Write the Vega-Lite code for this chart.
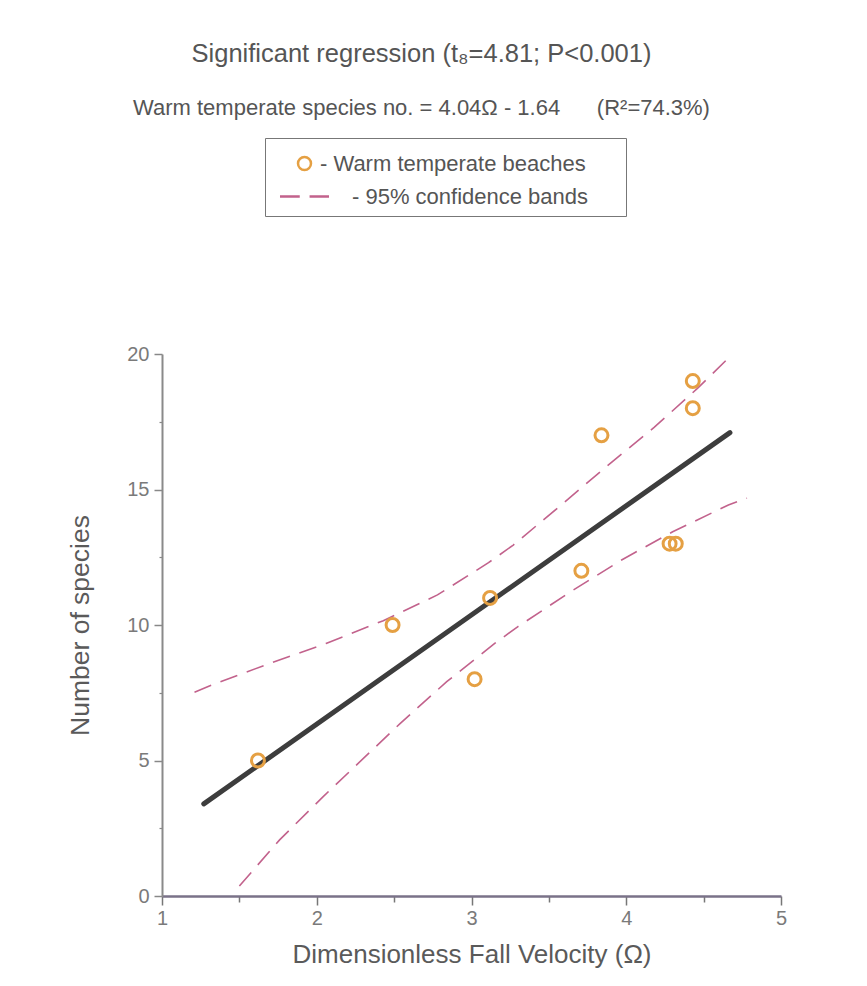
{
  "$schema": "https://vega.github.io/schema/vega-lite/v6.json",
  "width": 619,
  "height": 542,
  "autosize": {"type": "none"},
  "padding": {"left": 162, "top": 354, "right": 86, "bottom": 90},
  "background": "white",
  "config": {"font": "Liberation Sans", "view": {"stroke": null}},
  "title": {
    "text": "Significant regression (t₈=4.81; P<0.001)",
    "subtitle": "Warm temperate species no. = 4.04Ω - 1.64\u00a0\u00a0\u00a0\u00a0\u00a0\u00a0(R²=74.3%)",
    "fontSize": 25.5,
    "fontWeight": "normal",
    "color": "#555555",
    "subtitleFontSize": 22,
    "subtitleColor": "#555555",
    "subtitlePadding": 30,
    "anchor": "middle",
    "offset": 19,
    "dx": -50
  },
  "datasets": {
    "bands": [
      {"band": "upper", "x": 1.21, "y": 7.52},
      {"band": "upper", "x": 1.35, "y": 7.85},
      {"band": "upper", "x": 1.70, "y": 8.59},
      {"band": "upper", "x": 2.06, "y": 9.32},
      {"band": "upper", "x": 2.43, "y": 10.16},
      {"band": "upper", "x": 2.78, "y": 11.11},
      {"band": "upper", "x": 3.11, "y": 12.3},
      {"band": "upper", "x": 3.27, "y": 12.95},
      {"band": "upper", "x": 3.58, "y": 14.43},
      {"band": "upper", "x": 3.87, "y": 15.84},
      {"band": "upper", "x": 4.18, "y": 17.29},
      {"band": "upper", "x": 4.46, "y": 18.73},
      {"band": "upper", "x": 4.68, "y": 19.96},
      {"band": "lower", "x": 1.50, "y": 0.37},
      {"band": "lower", "x": 1.76, "y": 2.07},
      {"band": "lower", "x": 2.04, "y": 3.66},
      {"band": "lower", "x": 2.54, "y": 6.37},
      {"band": "lower", "x": 2.84, "y": 7.91},
      {"band": "lower", "x": 3.15, "y": 9.32},
      {"band": "lower", "x": 3.30, "y": 9.94},
      {"band": "lower", "x": 3.63, "y": 11.19},
      {"band": "lower", "x": 3.97, "y": 12.40},
      {"band": "lower", "x": 4.30, "y": 13.44},
      {"band": "lower", "x": 4.66, "y": 14.43},
      {"band": "lower", "x": 4.78, "y": 14.68}
    ],
    "fit": [
      {"x": 1.27, "y": 3.4},
      {"x": 4.67, "y": 17.1}
    ],
    "beaches": [
      {"series": "- Warm temperate beaches\u2800\u2800", "x": 1.62, "y": 5},
      {"series": "- Warm temperate beaches\u2800\u2800", "x": 2.49, "y": 10},
      {"series": "- Warm temperate beaches\u2800\u2800", "x": 3.02, "y": 8},
      {"series": "- Warm temperate beaches\u2800\u2800", "x": 3.12, "y": 11},
      {"series": "- Warm temperate beaches\u2800\u2800", "x": 3.71, "y": 12},
      {"series": "- Warm temperate beaches\u2800\u2800", "x": 3.84, "y": 17},
      {"series": "- Warm temperate beaches\u2800\u2800", "x": 4.28, "y": 13},
      {"series": "- Warm temperate beaches\u2800\u2800", "x": 4.32, "y": 13},
      {"series": "- Warm temperate beaches\u2800\u2800", "x": 4.43, "y": 19},
      {"series": "- Warm temperate beaches\u2800\u2800", "x": 4.43, "y": 18}
    ]
  },
  "layer": [
    {
      "data": {"name": "bands"},
      "mark": {"type": "line", "stroke": "#c2628c", "strokeWidth": 1.6, "strokeDash": [18, 10]},
      "encoding": {
        "x": {"field": "x", "type": "quantitative", "scale": {"domain": [1, 5], "nice": false, "zero": false}, "axis": null},
        "y": {"field": "y", "type": "quantitative", "scale": {"domain": [0, 20], "nice": false}, "axis": null},
        "detail": {"field": "band"}
      }
    },
    {
      "data": {"name": "fit"},
      "mark": {"type": "line", "stroke": "#3d3d3d", "strokeWidth": 5, "strokeCap": "round"},
      "encoding": {
        "x": {"field": "x", "type": "quantitative", "scale": {"domain": [1, 5], "nice": false, "zero": false},
              "axis": {"orient": "bottom", "values": [1.5, 2.5, 3.5, 4.5], "labels": false, "domain": false, "grid": false, "tickSize": 6, "tickWidth": 1.5, "tickColor": "#777777", "title": null}},
        "y": {"field": "y", "type": "quantitative", "scale": {"domain": [0, 20], "nice": false},
              "axis": {"orient": "left", "values": [2.5, 7.5, 12.5, 17.5], "labels": false, "domain": false, "grid": false, "tickSize": 3, "tickWidth": 1.2, "tickColor": "#888888", "title": null}}
      }
    },
    {
      "data": {"name": "beaches"},
      "mark": {"type": "point", "filled": false, "size": 1000, "strokeWidth": 3, "opacity": 1},
      "encoding": {
        "x": {"field": "x", "type": "quantitative", "scale": {"domain": [1, 5], "nice": false, "zero": false},
              "axis": {"orient": "bottom", "values": [1, 2, 3, 4, 5], "grid": false, "tickSize": 9, "tickWidth": 1.5, "tickColor": "#777777", "domainColor": "#7a7288", "domainWidth": 2.5, "labelFontSize": 20, "labelColor": "#7a7a7a", "labelPadding": 3, "labelFlush": false, "labelOverlap": false, "title": "Dimensionless Fall Velocity (Ω)", "titleFontSize": 26, "titleFontWeight": "normal", "titleColor": "#5a5a5a", "titlePadding": 13}},
        "y": {"field": "y", "type": "quantitative", "scale": {"domain": [0, 20], "nice": false},
              "axis": {"orient": "left", "values": [0, 5, 10, 15, 20], "grid": false, "tickSize": 8, "tickWidth": 1.5, "tickColor": "#888888", "domainColor": "#8a8a8a", "domainWidth": 2, "labelFontSize": 20, "labelColor": "#7a7a7a", "labelPadding": 5, "labelFlush": false, "labelOverlap": false, "title": "Number of species", "titleFontSize": 26.5, "titleFontWeight": "normal", "titleColor": "#5a5a5a", "titlePadding": 32}},
        "shape": {
          "field": "series", "type": "nominal",
          "scale": {"domain": ["- Warm temperate beaches\u2800\u2800", "\u2800\u2800- 95% confidence bands"], "range": ["M0.41,0A0.41,0.41,0,1,1,-0.41,0A0.41,0.41,0,1,1,0.41,0Z", "M-1.55,0H-0.3M0.32,0H1.55"]},
          "legend": {
            "orient": "none", "legendX": 103, "legendY": -216,
            "title": "\u00a0", "titleOrient": "left", "titleFontSize": 10, "titlePadding": 14,
            "strokeColor": "#777777", "padding": 8,
            "symbolSize": 1000, "symbolStrokeWidth": 2.5,
            "labelFontSize": 22, "labelColor": "#555555", "labelLimit": 600, "labelOffset": -2, "rowPadding": 4,
            "encode": {
              "symbols": {"update": {
                "strokeWidth": {"signal": "indexof(datum.value, 'confidence') >= 0 ? 1.6 : 3"},
                "stroke": {"signal": "indexof(datum.value, 'confidence') >= 0 ? '#c2628c' : '#e5a043'"},
                "fill": {"value": "transparent"}
              }},
              "legend": {"update": {"strokeWidth": {"value": 2}}}
            }
          }
        },
        "stroke": {
          "field": "series", "type": "nominal",
          "scale": {"domain": ["- Warm temperate beaches\u2800\u2800", "\u2800\u2800- 95% confidence bands"], "range": ["#e5a043", "#c2628c"]},
          "legend": null
        }
      }
    }
  ],
  "resolve": {"axis": {"x": "independent", "y": "independent"}}
}
